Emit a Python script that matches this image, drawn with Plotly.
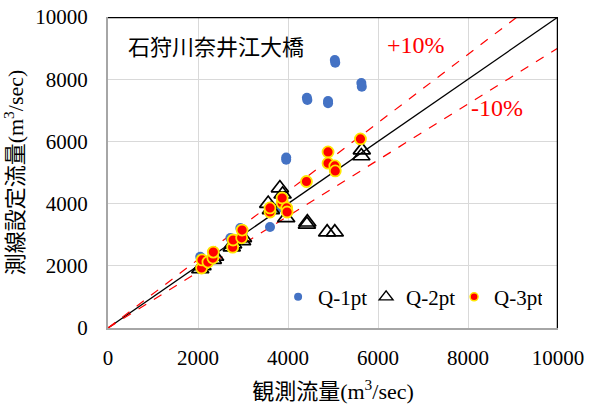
import plotly.graph_objects as go

# Observed discharge (x) vs. discharge from survey-line setting (y), m3/sec
q1_obs = [2050, 2100, 2330, 2380, 2720, 2780, 2940, 3000, 3600, 3640, 3780, 3870, 3960, 3960, 4420, 4430, 4890, 4890, 5040, 5050, 5630, 5640]
q1_est = [2290, 2200, 2400, 2350, 2890, 2850, 3215, 3100, 3250, 3850, 3860, 3900, 5480, 5410, 7400, 7330, 7300, 7230, 8620, 8530, 7880, 7760]

q2_obs = [2050, 2100, 2330, 2380, 2750, 2780, 2980, 3000, 3560, 3620, 3820, 3880, 3960, 4420, 4430, 4870, 5040, 5630, 5640]
q2_est = [1900, 2000, 2200, 2300, 2600, 2700, 2800, 2900, 4000, 3800, 4500, 4300, 3540, 3330, 3400, 3080, 3080, 5530, 5720]

q3_obs = [2080, 2090, 2220, 2330, 2340, 2770, 2780, 2970, 2980, 3600, 3600, 3870, 3870, 3970, 3980, 4410, 4890, 4890, 5040, 5050, 5610]
q3_est = [1930, 2190, 2120, 2250, 2440, 2600, 2830, 2900, 3150, 3730, 3860, 4020, 4180, 3860, 3730, 4710, 5660, 5300, 5210, 5050, 6080]

axis_max = 10000
tick_vals = [0, 2000, 4000, 6000, 8000, 10000]
tick_text = ["0", "2000", "4000", "6000", "8000", "10000"]
band_ratios = [1.1, 0.9]
band_labels = ["+10%", "-10%"]

serif = "Liberation Serif"
mixed = "Liberation Serif, Noto Sans CJK JP"
cjk = "Noto Sans CJK JP"

fig = go.Figure()

# 1:1 line and ±10% bands
fig.add_trace(go.Scatter(x=[0, axis_max], y=[0, axis_max], mode="lines",
                         line=dict(color="black", width=1.3), showlegend=False, hoverinfo="skip"))
for r in band_ratios:
    x_end = min(axis_max, axis_max / r)
    fig.add_trace(go.Scatter(x=[0, x_end], y=[0, x_end * r], mode="lines",
                             line=dict(color="red", width=1.2, dash="dash"),
                             showlegend=False, hoverinfo="skip"))

blue_marker = dict(symbol="circle", color="#4472C4", size=10)
tri_marker = dict(symbol="triangle-up-open", color="black", size=15, line=dict(width=1.7, color="black"))
red_marker = dict(symbol="circle", color="#FF0000", size=11, line=dict(width=1.8, color="#FFE600"))

fig.add_trace(go.Scatter(x=q1_obs, y=q1_est, mode="markers", marker=blue_marker, name="Q-1pt", showlegend=False))
fig.add_trace(go.Scatter(x=q2_obs, y=q2_est, mode="markers", marker=tri_marker, name="Q-2pt", showlegend=False))
fig.add_trace(go.Scatter(x=q3_obs, y=q3_est, mode="markers", marker=red_marker, name="Q-3pt", showlegend=False))

# Legend entries with smaller symbols
fig.add_trace(go.Scatter(x=[None], y=[None], mode="markers", name="Q-1pt",
                         marker=dict(symbol="circle", color="#4472C4", size=8)))
fig.add_trace(go.Scatter(x=[None], y=[None], mode="markers", name="Q-2pt",
                         marker=dict(symbol="triangle-up-open", color="black", size=12, line=dict(width=1.4, color="black"))))
fig.add_trace(go.Scatter(x=[None], y=[None], mode="markers", name="Q-3pt",
                         marker=dict(symbol="circle", color="#FF0000", size=8, line=dict(width=1.5, color="#FFE600"))))

axis_common = dict(range=[0, axis_max], tickvals=tick_vals, ticktext=tick_text, showgrid=True,
                   gridcolor="#d9d9d9", gridwidth=1, zeroline=False, showline=True,
                   linecolor="#a6a6a6", linewidth=2, ticks="", automargin=False,
                   tickfont=dict(family=serif, size=21, color="black"))

fig.update_xaxes(**axis_common, ticklabelstandoff=10,
                 title=dict(text="観測流量(m<sup>3</sup>/sec)", font=dict(family=mixed, size=22, color="black")))
fig.update_yaxes(**axis_common, ticklabelstandoff=14,
                 title=dict(text="測線設定流量(m<sup>3</sup>/sec)", font=dict(family=mixed, size=22, color="black")))

# Heavy top and right frame
fig.add_shape(type="line", xref="x", yref="y", x0=0, x1=axis_max, y0=axis_max, y1=axis_max,
              line=dict(color="black", width=2.5))
fig.add_shape(type="line", xref="x", yref="y", x0=axis_max, x1=axis_max, y0=0, y1=axis_max,
              line=dict(color="black", width=2.5))

fig.add_annotation(x=0.04, y=0.91, xref="paper", yref="paper", text="石狩川奈井江大橋", showarrow=False,
                   xanchor="left", yanchor="middle", font=dict(family=cjk, size=22, color="black"))
fig.add_annotation(x=6840, y=9100, text=band_labels[0], showarrow=False, xanchor="center",
                   font=dict(family=serif, size=24, color="red"))
fig.add_annotation(x=8640, y=7070, text=band_labels[1], showarrow=False, xanchor="center",
                   font=dict(family=serif, size=24, color="red"))

fig.update_layout(
    width=598, height=404,
    margin=dict(l=108, r=40, t=17, b=76),
    paper_bgcolor="white", plot_bgcolor="white",
    legend=dict(orientation="h", x=0.378, y=0.165, xanchor="left", yanchor="top",
                bgcolor="rgba(0,0,0,0)", font=dict(family=serif, size=21, color="black"),
                itemwidth=30, tracegroupgap=0, entrywidth=43, entrywidthmode="pixels"),
)

fig.write_html("out.html")
